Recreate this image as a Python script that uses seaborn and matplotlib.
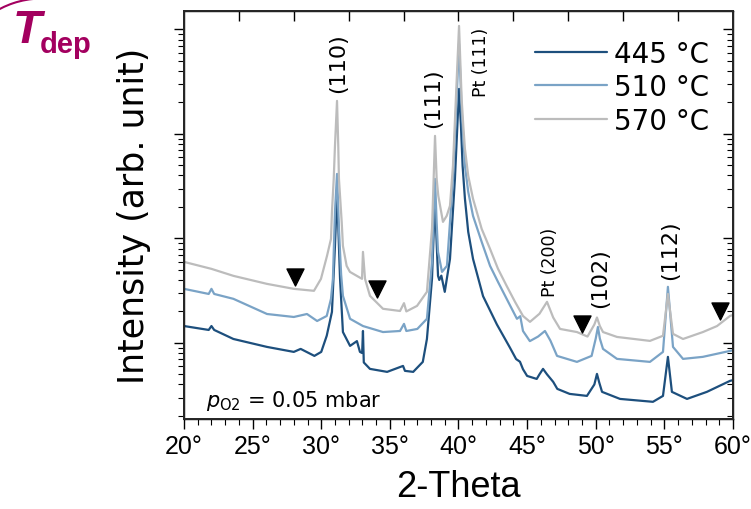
"""XRD patterns for three deposition temperatures (log intensity)."""

import matplotlib.pyplot as plt
import matplotlib.patches as patches
from matplotlib.ticker import MultipleLocator, NullFormatter, FixedLocator, LogLocator
import numpy as np
import pandas as pd
import seaborn as sns

sns.set_theme(style="white")
plt.rcParams["font.family"] = ["DejaVu Sans"]
plt.rcParams["text.color"] = "black"
plt.rcParams["axes.labelcolor"] = "black"
plt.rcParams["xtick.color"] = "black"
plt.rcParams["ytick.color"] = "black"

# ---------------------------------------------------------------------------
# Data (2-theta in degrees, intensity arb.)
# ---------------------------------------------------------------------------
tth_445 = [20.0, 21.8, 22.0, 22.2, 23.6, 26.05, 28.0, 28.5, 29.5, 30.0, 30.4, 30.78,
           31.0, 31.15, 31.25, 31.37, 31.58, 32.1, 32.6, 32.82, 32.98, 33.04, 33.1,
           33.55, 34.8, 35.96, 36.1, 36.7, 37.4, 37.7, 38.07, 38.19, 38.29, 38.41,
           38.51, 38.6, 38.75, 39.0, 39.38, 39.74, 40.04, 40.18, 40.3, 40.47, 40.71,
           41.06, 41.79, 42.8, 43.75, 44.2, 44.48, 44.7, 45.0, 45.7, 45.9, 46.16,
           46.45, 46.9, 47.2, 48.1, 49.36, 49.9, 50.09, 50.25, 50.46, 51.77, 54.17,
           54.9, 55.26, 55.55, 56.65, 58.1, 59.78, 60.0]
int_445 = [1450, 1330, 1450, 1330, 1090, 915, 820, 876, 751, 820, 1170, 1980,
           8480, 26700, 12000, 4100, 1270, 936, 1040, 820, 800, 1300, 650,
           564, 528, 602, 540, 528, 658, 1090, 4100, 11000, 22850, 9000,
           4380, 4000, 4400, 3080, 6360, 37100, 269600, 119300, 49400, 23900, 11540,
           6360, 2800, 1500, 900, 700, 660, 560, 483, 452, 500, 564,
           500, 424, 363, 325, 311, 400, 505, 420, 340, 291, 273,
           311, 735, 340, 291, 340, 433, 440]

tth_510 = [20.0, 21.8, 22.0, 22.2, 23.6, 26.05, 28.0, 28.96, 29.7, 30.4, 30.71, 30.85,
           31.0, 31.15, 31.29, 31.45, 31.58, 32.1, 33.04, 34.5, 35.74, 36.03, 36.2,
           37.0, 37.7, 38.07, 38.19, 38.29, 38.41, 38.51, 38.8, 39.16, 39.6, 40.04,
           40.23, 40.47, 40.71, 41.06, 41.69, 42.3, 42.88, 43.51, 44.26, 44.5, 44.7,
           45.2, 45.8, 46.3, 46.7, 47.18, 48.63, 49.7, 50.0, 50.16, 50.3, 50.53,
           51.55, 53.95, 54.9, 55.26, 55.63, 56.36, 57.8, 59.78, 60.0]
int_510 = [3290, 2940, 3290, 2940, 2640, 1890, 1770, 1890, 1620, 1810, 2640, 4100,
           17930, 41400, 12330, 4500, 2820, 1700, 1450, 1270, 1300, 1520, 1300,
           1360, 1700, 5960, 17000, 37100, 14000, 7430, 4780, 5460, 37100, 727000,
           173500, 49400, 27860, 16420, 9260, 5460, 3830, 2640, 1700, 1800, 1300,
           1040, 1150, 1300, 1050, 751, 658, 751, 1100, 1420, 1100, 876,
           703, 658, 820, 3440, 915, 703, 735, 838, 850]

tth_570 = [20.0, 22.0, 23.6, 26.05, 28.0, 29.47, 29.98, 30.42, 30.71, 30.78, 30.91,
           31.0, 31.15, 31.24, 31.29, 31.49, 31.58, 31.85, 32.09, 32.97, 33.04, 33.19,
           33.55, 34.5, 35.74, 36.03, 36.2, 36.98, 37.7, 38.07, 38.19, 38.29, 38.41,
           38.53, 38.87, 39.14, 39.38, 39.6, 40.04, 40.23, 40.35, 40.47, 40.71, 41.06,
           41.69, 42.3, 42.88, 43.51, 44.12, 44.7, 45.21, 45.9, 46.45, 46.9, 47.4,
           48.63, 49.4, 49.9, 50.09, 50.3, 50.53, 51.55, 53.95, 54.9, 55.26, 55.63,
           56.36, 57.81, 58.84, 59.78, 60.0]
int_570 = [5960, 5110, 4380, 3670, 3290, 3150, 4100, 6800, 9890, 17930, 37100,
           76800, 206900, 76800, 37100, 14390, 8480, 5460, 4780, 4100, 7430, 4100,
           2820, 2120, 2020, 2400, 2000, 2260, 3080, 12330, 37100, 95700, 37100,
           25500, 14390, 16420, 20500, 50000, 1080000, 216300, 119300, 71900, 39600, 23900,
           12330, 7930, 5110, 3510, 2470, 1810, 1590, 1900, 2470, 1750, 1360,
           1270, 1150, 1500, 1750, 1450, 1270, 1140, 1045, 1170, 2940, 1220,
           1090, 1270, 1450, 1810, 1850]

temp_labels = ["445 °C", "510 °C", "570 °C"]
temp_colors = ["#1d4f7d", "#7aa3c6", "#bcbcbc"]

# unidentified-phase markers (triangles)
marker_tth = [28.1, 34.06, 49.0, 59.05]
marker_int = [4280, 3290, 1520, 2020]

# reflection labels: (text, 2-theta, intensity at label bottom, fontsize)
peak_labels = [
    ("(110)", 31.22, 2.52e5, 16),
    ("(111)", 38.14, 1.17e5, 16),
    ("Pt (111)", 41.64, 2.31e5, 12.5),
    ("Pt (200)", 46.67, 2820, 12.5),
    ("(102)", 50.31, 2210, 16),
    ("(112)", 55.41, 4090, 16),
]

frames = []
for lab, tth, inten in zip(temp_labels, [tth_445, tth_510, tth_570],
                           [int_445, int_510, int_570]):
    frames.append(pd.DataFrame({"two_theta": tth, "intensity": inten, "T_dep": lab}))
df = pd.concat(frames, ignore_index=True)

# ---------------------------------------------------------------------------
fig = plt.figure(figsize=(7.51, 5.10), dpi=100)
ax = fig.add_axes([0.245, 0.1765, 0.731, 0.80])

sns.lineplot(
    data=df, x="two_theta", y="intensity", hue="T_dep",
    hue_order=temp_labels, palette=dict(zip(temp_labels, temp_colors)),
    estimator=None, sort=False, linewidth=1.6, ax=ax,
)
ax.scatter(marker_tth, marker_int, marker="v", s=150, color="black", zorder=5)

ax.set_yscale("log")
ax.set_xlim(20, 60)
ax.set_ylim(187, 1.5e6)

for text, x, y, fs in peak_labels:
    ax.text(x, y, text, rotation=90, ha="center", va="bottom", fontsize=fs)

ax.text(0.04, 0.032, r"$p_{\mathrm{O2}}$ = 0.05 mbar", transform=ax.transAxes,
        fontsize=15, va="baseline", ha="left")

# axes styling
for sp in ax.spines.values():
    sp.set_color("black")
    sp.set_linewidth(1.0)
ax.xaxis.set_major_locator(MultipleLocator(5))
ax.xaxis.set_minor_locator(MultipleLocator(1))
ax.xaxis.set_major_formatter(lambda v, pos: f"{v:.0f}°")
ax.yaxis.set_major_locator(LogLocator(base=10))
ax.yaxis.set_minor_locator(LogLocator(base=10, subs=np.arange(2, 10)))
ax.yaxis.set_major_formatter(NullFormatter())
ax.yaxis.set_minor_formatter(NullFormatter())
ax.tick_params(axis="both", which="both", direction="out", color="black",
               bottom=True, left=True, top=False, right=False)
ax.tick_params(axis="both", which="major", length=7, width=1.0)
ax.tick_params(axis="both", which="minor", length=4, width=0.8)
ax.tick_params(axis="x", labelsize=18, pad=4, labelcolor="black")
for lbl in ax.get_xticklabels():
    lbl.set_family(["Liberation Sans Narrow", "Liberation Sans"])

# right and top spines carry inward ticks
axr = ax.twinx()
axr.set_yscale("log")
axr.set_ylim(ax.get_ylim())
axr.yaxis.set_major_locator(LogLocator(base=10))
axr.yaxis.set_minor_locator(LogLocator(base=10, subs=np.arange(2, 10)))
axr.yaxis.set_major_formatter(NullFormatter())
axr.yaxis.set_minor_formatter(NullFormatter())
axr.tick_params(axis="y", which="both", direction="in", color="black")
axr.tick_params(axis="y", which="major", length=7, width=1.0)
axr.tick_params(axis="y", which="minor", length=4, width=0.8)
axr.grid(False)

axt = ax.twiny()
axt.set_xlim(ax.get_xlim())
axt.xaxis.set_major_locator(FixedLocator(np.arange(24, 60, 4)))
axt.xaxis.set_major_formatter(NullFormatter())
axt.tick_params(axis="x", which="major", direction="in", length=7, width=1.0, color="black")
axt.grid(False)

ax.set_xlabel("2-Theta", fontsize=26, family=["Liberation Sans Narrow", "Liberation Sans"],
              labelpad=8, color="black")
ax.set_ylabel("Intensity (arb. unit)", fontsize=25, labelpad=13, color="black")

handles, labels = ax.get_legend_handles_labels()
leg = ax.legend(handles, labels, loc="upper left", bbox_to_anchor=(0.639, 0.93),
                frameon=False, fontsize=20, handlelength=2.6, handletextpad=0.25,
                labelspacing=0.2, borderpad=0, borderaxespad=0)
for t in leg.get_texts():
    t.set_color("black")

# T_dep tag in the upper left corner
tag_col = "#a3005f"
fig.text(13 / 751, 1 - 43 / 510, "T", fontsize=34, fontweight="bold", fontstyle="italic",
         color=tag_col, family=["Liberation Sans"], va="baseline")
fig.text(40 / 751, 1 - 53 / 510, "dep", fontsize=21, fontweight="bold",
         color=tag_col, family=["Liberation Sans"], va="baseline")
arc = patches.Arc((42, 420), 181, 181, theta1=92, theta2=125, transform=None,
                  color=tag_col, linewidth=1.5)
fig.patches.append(arc)

fig.savefig("out.png", dpi=100)
plt.close(fig)
